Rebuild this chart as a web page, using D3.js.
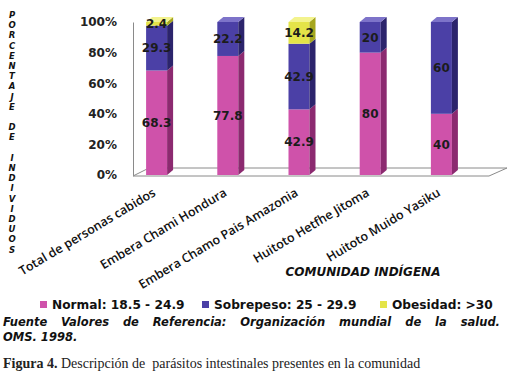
<!DOCTYPE html>
<html>
<head>
<meta charset="utf-8">
<script src="https://cdnjs.cloudflare.com/ajax/libs/d3/7.8.5/d3.min.js"></script>
<style>
  body { margin: 0; background: #fff; }
  svg { display: block; }
</style>
</head>
<body>
<div id="chart"></div>
<script>
// chart data
const categories = ['Total de personas cabidos', 'Embera Chami Hondura', 'Embera Chamo Pais Amazonia', 'Huitoto Hetfhe Jitoma', 'Huitoto Muido Yasiku'];
const seriesNames = ['Normal: 18.5 - 24.9', 'Sobrepeso: 25 - 29.9', 'Obesidad: >30'];
const normal = [68.3, 77.8, 42.9, 80, 40];
const sobrepeso = [29.3, 22.2, 42.9, 20, 60];
const obesidad = [2.4, 0, 14.2, 0, 0];
const yTicks = [0, 20, 40, 60, 80, 100];
const yTitle = 'PORCENTAJE DE INDIVIDUOS';
const xTitle = 'COMUNIDAD INDÍGENA';
const sourceLine1 = 'Fuente Valores de Referencia: Organización mundial de la salud.';
const sourceLine2 = 'OMS. 1998.';
const captionBold = 'Figura 4.';
const captionText = ' Descripción de  parásitos intestinales presentes en la comunidad';

// colours per series: front, side, top
const colors = [
  { front: '#cf52aa', side: '#8c2a70', top: '#e38acb' },
  { front: '#4b40a6', side: '#2c246c', top: '#7d73c9' },
  { front: '#e4e448', side: '#a6a61e', top: '#f3f38e' }
];

const width = 510, height = 379;
const depthX = 6, depthY = 5;

const svg = d3.select('#chart').append('svg')
  .attr('width', width)
  .attr('height', height);

const x = d3.scaleBand()
  .domain(categories)
  .range([121, 477])
  .paddingInner(0.705)
  .paddingOuter(0.3525);

const y = d3.scaleLinear()
  .domain([0, 100])
  .range([175, 22]);

// floor of the 3d plot
svg.append('path')
  .attr('d', 'M133,176 L489,176 L507,168 L149,168 Z')
  .attr('fill', '#fff')
  .attr('stroke', '#8a8a8a')
  .attr('stroke-width', 1);

// y axis
const yAxis = svg.append('g')
  .attr('transform', 'translate(133,0)')
  .call(d3.axisLeft(y).tickValues(yTicks).tickSize(0).tickSizeOuter(0).tickPadding(16).tickFormat(d => d + '%'));
yAxis.select('.domain').attr('stroke', '#8a8a8a');
yAxis.selectAll('text')
  .attr('font-family', 'DejaVu Sans')
  .attr('font-weight', 'bold')
  .attr('font-size', 12)
  .attr('fill', '#222');

// stacked bars
const series = [normal, sobrepeso, obesidad];
categories.forEach((cat, i) => {
  const x0 = x(cat), w = x.bandwidth();
  let base = 0;
  const g = svg.append('g').attr('class', 'bar');
  const segs = [];
  series.forEach((vals, s) => {
    const v = vals[i];
    if (v > 0) segs.push({ s: s, v: v, lo: base, hi: base + v });
    base += v;
  });
  segs.forEach((seg, k) => {
    const yTop = y(seg.hi), yBot = y(seg.lo);
    const c = colors[seg.s];
    g.append('rect')
      .attr('x', x0).attr('y', yTop)
      .attr('width', w).attr('height', yBot - yTop)
      .attr('fill', c.front);
    g.append('path')
      .attr('d', `M${x0 + w},${yTop} L${x0 + w + depthX},${yTop - depthY} L${x0 + w + depthX},${yBot - depthY} L${x0 + w},${yBot} Z`)
      .attr('fill', c.side);
    if (k === segs.length - 1) {
      g.append('path')
        .attr('d', `M${x0},${yTop} L${x0 + depthX},${yTop - depthY} L${x0 + w + depthX},${yTop - depthY} L${x0 + w},${yTop} Z`)
        .attr('fill', c.top);
    }
  });
  // value labels
  segs.forEach(seg => {
    g.append('text')
      .attr('x', x0 + w / 2)
      .attr('y', y((seg.lo + seg.hi) / 2))
      .attr('dy', '0.35em')
      .attr('text-anchor', 'middle')
      .attr('font-family', 'DejaVu Sans')
      .attr('font-weight', 'bold')
      .attr('font-size', 12)
      .attr('fill', '#1c1c1c')
      .text(String(seg.v));
  });
});

// category labels, rotated
svg.selectAll('.catLabel')
  .data(categories).enter().append('text')
  .attr('class', 'catLabel')
  .attr('transform', d => `translate(${x(d) + x.bandwidth() / 2},195) rotate(-31)`)
  .attr('text-anchor', 'end')
  .attr('font-family', 'Open Sans')
  .attr('font-weight', 600)
  .attr('font-size', 12.5)
  .attr('fill', '#111')
  .text(d => d);

// y title, one letter per line
const yLetters = yTitle.split('');
svg.append('g').selectAll('text')
  .data(yLetters).enter().append('text')
  .attr('x', 12)
  .attr('y', (d, i) => 18 + i * 10.2)
  .attr('text-anchor', 'middle')
  .attr('font-family', 'DejaVu Sans')
  .attr('font-weight', 'bold')
  .attr('font-style', 'italic')
  .attr('font-size', 8.5)
  .attr('fill', '#111')
  .text(d => d.trim());

// x title
svg.append('text')
  .attr('x', 363)
  .attr('y', 276)
  .attr('text-anchor', 'middle')
  .attr('font-family', 'DejaVu Sans')
  .attr('font-weight', 'bold')
  .attr('font-style', 'italic')
  .attr('font-size', 12)
  .attr('fill', '#111')
  .text(xTitle);

// legend
const legendX = [40, 202, 380];
const legend = svg.append('g');
seriesNames.forEach((name, i) => {
  legend.append('rect')
    .attr('x', legendX[i]).attr('y', 301)
    .attr('width', 7).attr('height', 7)
    .attr('fill', colors[i].front);
  legend.append('text')
    .attr('x', legendX[i] + 12).attr('y', 309)
    .attr('font-family', 'DejaVu Sans')
    .attr('font-weight', 'bold')
    .attr('font-size', 12.2)
    .attr('fill', '#111')
    .text(name);
});

// source note, justified like in the figure
function justifyLine(text, x0, x1, yPos) {
  const t = svg.append('text')
    .attr('y', yPos)
    .attr('font-family', 'DejaVu Sans')
    .attr('font-weight', 'bold')
    .attr('font-style', 'italic')
    .attr('font-size', 11.5)
    .attr('fill', '#111');
  const words = text.split(' ');
  const spans = words.map(wd => t.append('tspan').text(wd));
  const widths = spans.map(s => s.node().getComputedTextLength());
  const gap = (x1 - x0 - d3.sum(widths)) / (words.length - 1);
  let cx = x0;
  spans.forEach((s, i) => {
    s.attr('x', cx);
    cx += widths[i] + gap;
  });
}
justifyLine(sourceLine1, 3, 500, 326);
svg.append('text')
  .attr('x', 3).attr('y', 341)
  .attr('font-family', 'DejaVu Sans')
  .attr('font-weight', 'bold')
  .attr('font-style', 'italic')
  .attr('font-size', 11.5)
  .attr('fill', '#111')
  .text(sourceLine2);

// caption
const cap = svg.append('text')
  .attr('x', 3).attr('y', 368)
  .attr('font-family', 'Liberation Serif')
  .attr('font-size', 14)
  .attr('fill', '#222')
  .style('white-space', 'pre');
cap.append('tspan').attr('font-weight', 'bold').text(captionBold);
cap.append('tspan').text(captionText);
</script>
</body>
</html>
